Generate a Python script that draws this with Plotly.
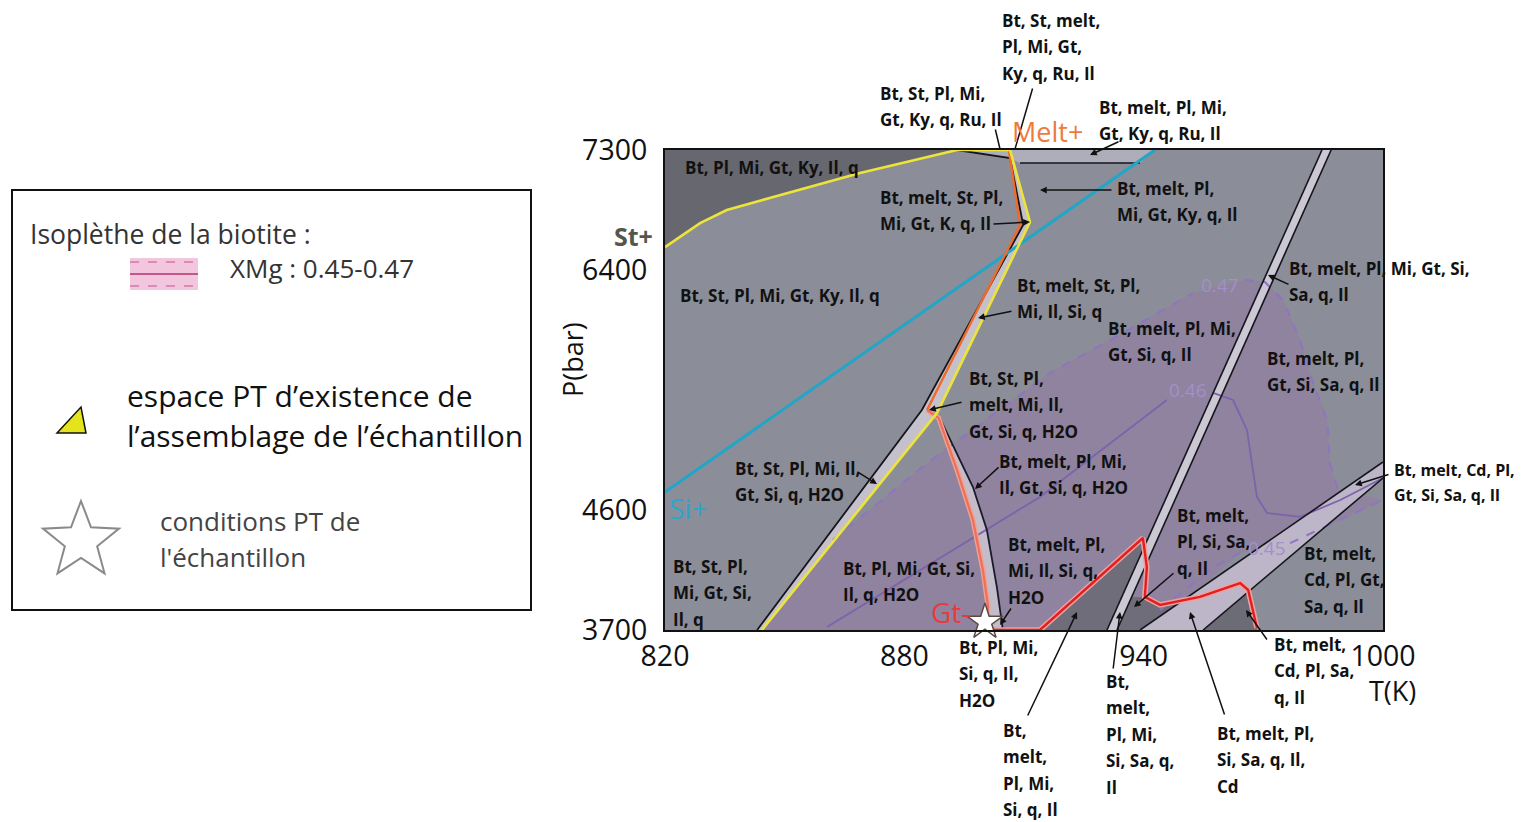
import math
import plotly.graph_objects as go

# ---------------- data (T in K, P in bar) ----------------
# St+ boundary / assemblage field limit (yellow)
yel_T = [820.0, 828.8, 835.5, 846.3, 868.9, 893.2, 906.5, 911.5, 888.2, 844.3]
yel_P = [6572, 6752, 6850, 6940, 7128, 7300, 7300, 6760, 5328, 3700]
# Si+ (cyan)
si_T = [820.0, 942.8]
si_P = [4735, 7300]
# Melt+ (orange)
melt_T = [906.2, 909.0, 885.7]
melt_P = [7300, 6738, 5350]
# black boundary left of St-out strip
blk_T = [893.2, 906.5, 909.8, 884.4, 843.1]
blk_P = [7300, 7240, 6738, 5350, 3700]
# small top boundary
top_T = [909.0, 939.1]
top_P = [7202, 7202]
# Gt- curve (salmon) and its companion black curve
gt_T = [885.7, 888.6, 893.2, 897.2, 899.7, 901.0, 900.5]
gt_P = [5350, 5290, 4900, 4525, 4150, 3873, 3738]
gtb_T = [886.5, 888.9, 897.2, 900.7, 903.2, 904.7]
gtb_P = [5350, 5290, 4772, 4450, 4022, 3700]
# big diagonal double line
d1_T = [930.8, 984.7]
d1_P = [3700, 7300]
d2_T = [933.3, 987.0]
d2_P = [3700, 7300]
# Cd wedge
wu_T = [939.1, 1000.0]
wu_P = [3700, 4960]
wl_T = [954.9, 1000.0]
wl_P = [3700, 4840]
# red field outline
red_T = [901.0, 914.0, 939.8, 940.8, 940.3, 944.1, 954.1, 964.2, 966.2, 967.4, 968.4]
red_P = [3700, 3700, 4390, 4172, 3948, 3888, 3948, 4052, 4000, 3850, 3715]
# dark sub-fields under the red outline
dkA_T = [914.0, 939.8, 941.1, 930.8]
dkA_P = [3700, 4390, 4390, 3700]
dkB_T = [933.3, 937.1, 940.3, 944.1, 948.6, 939.1]
dkB_P = [3700, 3948, 3948, 3888, 3895, 3700]
dkC_T = [954.9, 966.5, 967.4, 968.4, 968.4]
dkC_P = [3700, 3992, 3850, 3715, 3700]
# biotite XMg isopleths
i47_T = [862.1, 878.2, 885.7, 916.5, 931.6, 952.4, None, 965.4, 970.4, 974.9, 979.2, 982.2, 986.0, 986.7, 988.7]
i47_P = [4375, 4772, 4952, 5628, 5875, 6228, None, 6325, 6310, 6175, 5875, 5575, 5275, 4952, 4750]
i46_T = [860.6, 914.0, 945.8, None, 957.4, 962.4, 965.9, 968.4, 970.9, 979.2, 989.3, 1000.0]
i46_P = [3722, 4698, 5425, None, 5478, 5425, 5200, 4698, 4578, 4548, 4675, 4840]
i45_T = [944.1, 957.4, 964.2, None, 976.7, 989.3, 1000.0]
i45_P = [3850, 4172, 4278, None, 4352, 4525, 4675]
# sample PT conditions
star_T = [900.2]
star_P = [3760]

x_ticks = [820, 880, 940, 1000]
y_ticks = [3700, 4600, 6400, 7300]

# ---------------- layout helpers ----------------
OFF = 8                      # page body margin
W, H = 1528 - OFF, 822 - OFF
PL, PR, PT, PB = 665, 1383, 150, 630   # plot area in screen pixels
FONT = "Open Sans"


def paper(xp, yp):
    return (xp - PL) / (PR - PL), (PB - yp) / (PB - PT)


def clean(a):
    return [v for v in a if v is not None]


fig = go.Figure()


def poly(T, P, color):
    fig.add_trace(go.Scatter(x=T + [T[0]], y=P + [P[0]], mode="lines", fill="toself",
                             fillcolor=color, line=dict(width=0), hoverinfo="skip"))


def line(T, P, color, width, dash=None):
    fig.add_trace(go.Scatter(x=T, y=P, mode="lines", connectgaps=False,
                             line=dict(color=color, width=width, dash=dash), hoverinfo="skip"))


# fields
poly(yel_T[:6] + [820.0], yel_P[:6] + [7300], "#67676f")
poly(clean(i47_T) + clean(i45_T)[::-1][:4] + [941.6, 844.3],
     clean(i47_P) + clean(i45_P)[::-1][:4] + [3700, 3700], "#8f839f")
poly([893.2, 942.8, 939.1, 909.0, 906.5], [7300, 7300, 7202, 7202, 7240], "#aeadba")
poly(blk_T[1:] + yel_T[6:][::-1], blk_P[1:] + yel_P[6:][::-1], "#c4c1cd")
poly(gt_T + gtb_T[::-1], gt_P + gtb_P[::-1], "#c2bccb")
poly(dkA_T, dkA_P, "#6e6d79")
poly(dkB_T, dkB_P, "#6e6d79")
poly(dkC_T, dkC_P, "#6c6c76")
poly(d1_T + d2_T[::-1], d1_P + d2_P[::-1], "#cbc7d3")
poly(wu_T + wl_T[::-1], wu_P + wl_P[::-1], "#bdb6c9")

# isopleths
line(i46_T, i46_P, "#7d62ac", 1.8)
line(i47_T, i47_P, "#8f74bf", 2, "dash")
line(i45_T, i45_P, "#8f74bf", 2, "dash")

# phase boundaries
for T, P in [(d1_T, d1_P), (d2_T, d2_P), (wu_T, wu_P), (wl_T, wl_P), (top_T, top_P)]:
    line(T, P, "#15151c", 1.6)
line(blk_T, blk_P, "#15151c", 1.8)
line(gtb_T, gtb_P, "#1b1b2a", 1.8)
line(gt_T, gt_P, "#f3a08c", 5)
line(gt_T, gt_P, "#ec7060", 2.2)
line(red_T, red_P, "#f0a0a0", 5.5)
line(red_T, red_P, "#e11f1f", 2.4)
line(si_T, si_P, "#1fa6c8", 3)
line(melt_T, melt_P, "#f06a28", 2.4)
line(yel_T, yel_P, "#ece43a", 2.6)

fig.add_trace(go.Scatter(x=star_T, y=star_P, mode="markers", cliponaxis=False,
                         marker=dict(symbol="star", size=27, color="white",
                                     line=dict(color="#5a4a40", width=1.5)),
                         hoverinfo="skip"))

# ---------------- annotations ----------------
ann = []
shapes = []


def txt(xp, yp, lines, size=17, color="#111111", weight=700, anchor="left", step=26.5):
    for i, s in enumerate(lines):
        x, y = paper(xp, yp + i * step)
        ann.append(dict(x=x, y=y, xref="paper", yref="paper", text=s, showarrow=False,
                        xanchor=anchor, yanchor="middle",
                        font=dict(family=FONT, size=size, color=color, weight=weight)))


def lead(x0, y0, x1, y1, head=True):
    x, y = paper(x1, y1)
    ann.append(dict(x=x, y=y, xref="paper", yref="paper", ax=x0 - x1, ay=y0 - y1,
                    axref="pixel", ayref="pixel", text="", showarrow=True,
                    arrowhead=2 if head else 0, arrowsize=0.9, arrowwidth=1.5,
                    arrowcolor="#111111", standoff=0, startstandoff=0))


labels = [
    (683, 167, ["Bt, Pl, Mi, Gt, Ky, Il, q"]),
    (878, 197, ["Bt, melt, St, Pl,", "Mi, Gt, K, q, Il"]),
    (1115, 188, ["Bt, melt, Pl,", "Mi, Gt, Ky, q, Il"]),
    (678, 295, ["Bt, St, Pl, Mi, Gt, Ky, Il, q"]),
    (1015, 285, ["Bt, melt, St, Pl,", "Mi, Il, Si, q"]),
    (1106, 328, ["Bt, melt, Pl, Mi,", "Gt, Si, q, Il"]),
    (967, 378, ["Bt, St, Pl,", "melt, Mi, Il,", "Gt, Si, q, H2O"]),
    (997, 461, ["Bt, melt, Pl, Mi,", "Il, Gt, Si, q, H2O"]),
    (733, 468, ["Bt, St, Pl, Mi, Il,", "Gt, Si, q, H2O"]),
    (671, 566, ["Bt, St, Pl,", "Mi, Gt, Si,", "Il, q"]),
    (841, 568, ["Bt, Pl, Mi, Gt, Si,", "Il, q, H2O"]),
    (1006, 544, ["Bt, melt, Pl,", "Mi, Il, Si, q,", "H2O"]),
    (1175, 515, ["Bt, melt,", "Pl, Si, Sa,", "q, Il"]),
    (1265, 358, ["Bt, melt, Pl,", "Gt, Si, Sa, q, Il"]),
    (1302, 553, ["Bt, melt,", "Cd, Pl, Gt,", "Sa, q, Il"]),
    (1287, 268, ["Bt, melt, Pl, Mi, Gt, Si,", "Sa, q, Il"]),
    (1000, 20, ["Bt, St, melt,", "Pl, Mi, Gt,", "Ky, q, Ru, Il"]),
    (878, 93, ["Bt, St, Pl, Mi,", "Gt, Ky, q, Ru, Il"]),
    (1097, 107, ["Bt, melt, Pl, Mi,", "Gt, Ky, q, Ru, Il"]),
    (957, 647, ["Bt, Pl, Mi,", "Si, q, Il,", "H2O"]),
    (1001, 730, ["Bt,", "melt,", "Pl, Mi,", "Si, q, Il"]),
    (1104, 681, ["Bt,", "melt,", "Pl, Mi,", "Si, Sa, q,", "Il"]),
    (1215, 733, ["Bt, melt, Pl,", "Si, Sa, q, Il,", "Cd"]),
    (1272, 644, ["Bt, melt,", "Cd, Pl, Sa,", "q, Il"]),
]
for xp, yp, ls in labels:
    txt(xp, yp, ls)
txt(1392, 470, ["Bt, melt, Cd, Pl,", "Gt, Si, Sa, q, Il"], size=16, step=25)

leaders = [
    (992, 224, 1030, 222, True), (1113, 190, 1040, 190, True), (1120, 141, 1090, 155, True),
    (1033, 87, 1015, 149, False), (995, 128, 1000, 149, False), (1013, 311, 978, 318, True),
    (963, 402, 929, 410, True), (856, 471, 877, 484, True), (1000, 466, 975, 489, True),
    (1012, 607, 1000, 625, True), (1175, 572, 1134, 607, True), (1290, 285, 1268, 275, True),
    (1390, 474, 1355, 485, True), (1027, 717, 1077, 612, True), (1113, 670, 1120, 612, True),
    (1225, 716, 1190, 612, True), (1268, 641, 1246, 610, True),
]
for l in leaders:
    lead(*l)

# boundary names
txt(1010, 131, ["Melt+"], size=27, color="#ee7a3e", weight=400)
txt(612, 236, ["St+"], size=25, color="#55564c", weight=700)
txt(667, 508, ["Si+"], size=28, color="#27a8cc", weight=400)
txt(929, 612, ["Gt-"], size=28, color="#e63c3c", weight=400)
# isopleth values
txt(1220, 285, ["0.47"], size=19, color="#a28fcb", weight=400, anchor="center")
txt(1188, 390, ["0.46"], size=19, color="#a28fcb", weight=400, anchor="center")
txt(1267, 548, ["0.45"], size=19, color="#a28fcb", weight=400, anchor="center")

# axis titles
x, y = paper(572, 360)
ann.append(dict(x=x, y=y, xref="paper", yref="paper", text="P(bar)", showarrow=False,
                textangle=-90, xanchor="center", yanchor="middle",
                font=dict(family=FONT, size=27, color="#111")))
txt(1392, 690, ["T(K)"], size=27, color="#111", weight=400, anchor="center")

# ---------------- legend box ----------------
def rect(x0, y0, x1, y1, **kw):
    a0, b0 = paper(x0, y1)
    a1, b1 = paper(x1, y0)
    shapes.append(dict(type="rect", xref="paper", yref="paper", x0=a0, y0=b0, x1=a1, y1=b1, **kw))


def seg(x0, y0, x1, y1, color, width, dash="solid"):
    a0, b0 = paper(x0, y0)
    a1, b1 = paper(x1, y1)
    shapes.append(dict(type="line", xref="paper", yref="paper", x0=a0, y0=b0, x1=a1, y1=b1,
                       line=dict(color=color, width=width, dash=dash)))


def path(pts, fill, lc, lw):
    d = "M " + " L ".join("%.5f,%.5f" % paper(px, py) for px, py in pts) + " Z"
    shapes.append(dict(type="path", xref="paper", yref="paper", path=d,
                       fillcolor=fill, line=dict(color=lc, width=lw)))


rect(12, 190, 531, 610, line=dict(color="#111", width=2), fillcolor="rgba(0,0,0,0)")
rect(130, 258, 198, 290, line=dict(width=0), fillcolor="#f2c7de")
seg(130, 262, 198, 262, "#c4508c", 1.2, "dash")
seg(130, 274, 198, 274, "#b3306f", 1.4)
seg(130, 286, 198, 286, "#c4508c", 1.2, "dash")
path([(57, 433), (86, 433), (81, 407)], "#e4e41c", "#111", 1.5)
cx, cy, R1, R2 = 81, 541, 40, 17
star_pts = []
for k in range(10):
    r = R1 if k % 2 == 0 else R2
    ang = -math.pi / 2 + k * math.pi / 5
    star_pts.append((cx + r * math.cos(ang), cy + r * math.sin(ang)))
path(star_pts, "rgba(255,255,255,0)", "#8a8a8a", 2)

txt(28, 234, ["Isoplèthe de la biotite :"], size=26.5, color="#333", weight=400)
txt(228, 268, ["XMg : 0.45-0.47"], size=26, color="#333", weight=400)
txt(125, 395, ["espace PT d’existence de", "l’assemblage de l’échantillon"], size=30,
    color="#111", weight=400, step=40)
txt(158, 521, ["conditions PT de", "l'échantillon"], size=26, color="#444", weight=400, step=36)

fig.update_layout(
    width=W, height=H,
    margin=dict(l=PL - OFF, r=W - (PR - OFF), t=PT - OFF, b=H - (PB - OFF)),
    paper_bgcolor="white", plot_bgcolor="#8b8d99",
    showlegend=False,
    annotations=ann, shapes=shapes,
    xaxis=dict(range=[820, 1000], tickvals=x_ticks, showgrid=False, zeroline=False,
               showline=True, linecolor="#111", linewidth=2, mirror=True, ticks="",
               tickfont=dict(family=FONT, size=28.5, color="#111")),
    yaxis=dict(range=[3700, 7300], tickvals=y_ticks, showgrid=False, zeroline=False,
               showline=True, linecolor="#111", linewidth=2, mirror=True, ticks="",
               ticklabelstandoff=10,
               tickfont=dict(family=FONT, size=28.5, color="#111")),
)

fig.write_html("out.html")
